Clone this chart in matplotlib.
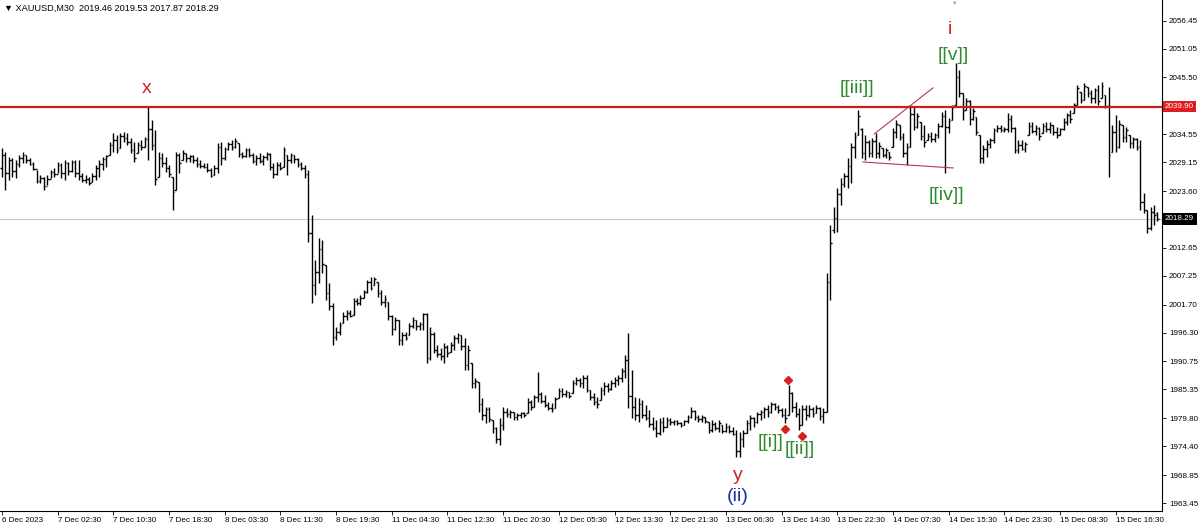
import matplotlib
matplotlib.use("Agg")
import matplotlib.pyplot as plt
import matplotlib.transforms as mtransforms
import numpy as np

plt.rcParams['font.family'] = ['Liberation Sans', 'DejaVu Sans']

# XAUUSD M30 bars (6 Dec 18:30 .. 15 Dec 23:30)
opens = [
    2028.0, 2030.5, 2027.0, 2029.5, 2027.5, 2028.8, 2030.0, 2030.6, 2029.6, 2028.9,
    2027.9, 2025.6, 2026.2, 2024.5, 2026.0, 2027.2, 2026.8, 2028.7, 2027.0, 2029.0,
    2027.5, 2029.2, 2027.0, 2026.6, 2025.8, 2026.0, 2025.4, 2026.6, 2028.0, 2028.8,
    2029.8, 2030.6, 2032.5, 2033.5, 2031.9, 2034.2, 2033.8, 2033.0, 2031.5, 2030.9,
    2032.5, 2032.1, 2033.6, 2035.5, 2032.5, 2026.4, 2030.0, 2029.0, 2028.0, 2026.3,
    2023.8, 2030.5, 2029.6, 2030.8, 2030.0, 2030.3, 2029.6, 2028.8, 2028.5, 2028.2,
    2027.6, 2026.7, 2028.0, 2032.0, 2030.0, 2031.8, 2032.6, 2032.0, 2032.9, 2030.8,
    2030.4, 2031.5, 2030.6, 2029.4, 2030.0, 2029.3, 2030.2, 2030.8, 2028.2, 2026.8,
    2028.6, 2028.2, 2030.5, 2029.5, 2030.6, 2029.8, 2028.8, 2028.0, 2026.8, 2015.5,
    2005.5, 2008.0, 2012.5, 2009.3, 2004.0, 2001.5, 1995.5, 1996.5, 1998.2, 1999.5,
    2000.0, 1999.7, 2002.4, 2002.0, 2003.0, 2004.2, 2006.0, 2005.5, 2006.1, 2004.0,
    2002.2, 2002.2, 1999.5, 1997.0, 1998.7, 1994.8, 1995.9, 1995.8, 1997.6, 1998.7,
    1997.5, 1998.0, 1999.8, 1991.5, 1996.0, 1993.0, 1992.2, 1991.8, 1993.6, 1992.6,
    1994.0, 1995.2, 1995.8, 1993.8, 1990.0, 1990.4, 1986.5, 1986.8, 1982.5, 1980.5,
    1981.5, 1979.5, 1978.0, 1975.8, 1978.5, 1981.0, 1980.6, 1981.0, 1980.0, 1980.4,
    1980.8, 1980.8, 1983.0, 1982.0, 1983.8, 1984.5, 1983.2, 1982.4, 1981.8, 1981.8,
    1983.7, 1985.0, 1984.5, 1984.8, 1984.7, 1986.5, 1987.2, 1986.5, 1987.6, 1985.2,
    1983.8, 1983.0, 1983.3, 1985.2, 1986.0, 1985.5, 1986.6, 1987.2, 1987.6, 1989.0,
    1991.0, 1984.0, 1982.0, 1980.4, 1982.5, 1980.5, 1979.8, 1978.6, 1978.0, 1977.0,
    1979.0, 1978.2, 1979.5, 1979.0, 1979.2, 1978.8, 1978.5, 1979.2, 1980.0, 1981.2,
    1980.0, 1979.6, 1980.0, 1979.1, 1977.5, 1978.6, 1978.0, 1978.5, 1977.4, 1978.2,
    1977.3, 1976.8, 1973.5, 1975.8, 1977.0, 1978.8, 1979.8, 1979.0, 1980.6, 1981.0,
    1981.5, 1981.0, 1982.5, 1982.0, 1981.3, 1980.5, 1980.4, 1984.6, 1982.0, 1980.6,
    1978.5, 1981.5, 1980.5, 1981.6, 1980.8, 1981.8, 1980.2, 1981.0, 2006.0, 2016.0,
    2018.5, 2023.0, 2025.0, 2026.5, 2028.5, 2032.0, 2034.4, 2035.5, 2031.0, 2033.0,
    2031.0, 2033.2, 2031.0, 2031.9, 2030.6, 2031.1, 2032.1, 2035.0, 2036.3, 2034.0,
    2031.0, 2032.1, 2038.5, 2036.0, 2036.9, 2034.2, 2033.4, 2034.2, 2033.6, 2034.5,
    2036.2, 2038.0, 2036.0, 2037.3, 2040.2, 2045.5, 2042.5, 2039.2, 2041.0, 2037.5,
    2037.9, 2034.4, 2030.0, 2031.8, 2032.6, 2033.4, 2035.4, 2035.8, 2035.4, 2035.6,
    2037.5, 2035.8, 2031.5, 2032.4, 2031.8, 2034.4, 2036.2, 2035.2, 2035.8, 2034.8,
    2036.2, 2035.5, 2036.3, 2035.0, 2034.4, 2035.5, 2037.0, 2038.2, 2038.7, 2040.2,
    2042.7, 2041.2, 2043.7, 2042.5, 2041.5, 2043.0, 2041.5, 2042.1, 2040.0, 2031.1,
    2035.0, 2032.0, 2036.3, 2034.0, 2034.4, 2032.8, 2033.6, 2032.0, 2021.5, 2019.9,
    2016.5, 2019.5, 2019.46,
]
highs = [
    2031.9, 2031.1, 2030.2, 2030.0, 2029.6, 2030.6, 2031.1, 2030.6, 2030.0, 2029.2,
    2027.7, 2026.7, 2026.3, 2026.7, 2027.7, 2028.0, 2029.2, 2029.0, 2029.6, 2029.2,
    2029.6, 2029.6, 2029.6, 2027.1, 2026.7, 2026.3, 2027.1, 2028.6, 2029.6, 2030.2,
    2030.6, 2033.1, 2034.8, 2034.4, 2034.8, 2035.0, 2034.8, 2033.8, 2033.1, 2033.1,
    2033.4, 2034.0, 2039.9, 2037.3, 2035.4, 2031.1, 2030.9, 2030.2, 2028.6, 2026.3,
    2031.1, 2030.9, 2031.5, 2030.9, 2030.6, 2030.6, 2030.2, 2029.6, 2029.0, 2029.0,
    2028.0, 2028.6, 2032.9, 2033.1, 2032.1, 2033.1, 2033.4, 2033.8, 2032.9, 2031.1,
    2031.9, 2031.9, 2030.9, 2030.6, 2030.9, 2030.6, 2031.1, 2030.9, 2029.0, 2029.2,
    2029.2, 2032.1, 2030.6, 2030.9, 2030.6, 2030.0, 2029.2, 2028.6, 2027.7, 2019.0,
    2010.3, 2014.5, 2014.2, 2009.3, 2005.9, 2002.0, 1997.4, 1998.4, 2000.3, 2000.7,
    2000.7, 2003.0, 2003.0, 2003.6, 2004.5, 2006.5, 2007.0, 2007.0, 2006.1, 2004.5,
    2003.6, 2002.2, 1999.7, 1999.3, 1998.7, 1996.4, 1996.4, 1998.2, 1999.3, 1998.7,
    1998.4, 2000.1, 2000.1, 1997.4, 1996.4, 1993.9, 1993.3, 1994.3, 1993.9, 1994.5,
    1995.8, 1996.2, 1995.8, 1995.3, 1993.9, 1990.4, 1987.6, 1986.8, 1983.7, 1982.0,
    1982.0, 1979.5, 1978.1, 1979.8, 1982.0, 1981.8, 1981.4, 1981.0, 1980.8, 1981.0,
    1981.0, 1983.7, 1983.3, 1984.3, 1988.7, 1984.8, 1984.3, 1982.9, 1982.7, 1983.9,
    1985.6, 1985.6, 1985.2, 1984.8, 1987.2, 1987.7, 1987.6, 1988.1, 1988.1, 1985.2,
    1984.6, 1983.9, 1985.8, 1986.8, 1986.6, 1987.2, 1987.7, 1988.1, 1989.5, 1992.0,
    1996.2, 1989.1, 1983.9, 1983.7, 1983.3, 1982.3, 1981.4, 1980.0, 1979.5, 1979.8,
    1980.0, 1980.0, 1979.8, 1979.5, 1979.5, 1979.1, 1979.5, 1980.4, 1982.0, 1981.4,
    1980.4, 1980.4, 1980.0, 1979.1, 1979.5, 1979.1, 1979.5, 1978.5, 1978.9, 1978.5,
    1978.1, 1977.5, 1977.1, 1977.5, 1979.5, 1980.4, 1980.0, 1981.0, 1981.4, 1982.0,
    1982.3, 1982.9, 1982.7, 1982.3, 1981.8, 1981.8, 1986.2, 1984.8, 1982.9, 1981.8,
    1982.3, 1982.3, 1982.3, 1982.0, 1982.3, 1982.0, 1981.8, 2007.8, 2017.1, 2020.5,
    2024.2, 2026.1, 2027.1, 2030.0, 2032.9, 2035.0, 2039.2, 2035.8, 2034.4, 2033.4,
    2033.8, 2034.8, 2033.1, 2031.9, 2031.9, 2031.1, 2035.8, 2037.3, 2036.3, 2034.8,
    2032.9, 2040.2, 2039.8, 2038.7, 2036.9, 2036.3, 2034.8, 2035.0, 2034.8, 2036.7,
    2038.8, 2039.2, 2037.7, 2040.2, 2048.3, 2046.9, 2042.5, 2041.5, 2041.2, 2039.6,
    2037.9, 2034.4, 2032.5, 2033.4, 2033.8, 2035.8, 2036.3, 2036.3, 2036.0, 2038.7,
    2038.3, 2036.0, 2033.4, 2033.4, 2033.1, 2036.9, 2036.9, 2036.3, 2036.0, 2036.7,
    2036.9, 2036.9, 2036.3, 2036.0, 2035.8, 2037.7, 2038.7, 2039.2, 2040.6, 2044.0,
    2042.7, 2044.4, 2043.7, 2043.1, 2043.5, 2044.0, 2044.6, 2042.1, 2043.7, 2036.3,
    2038.3, 2037.3, 2036.3, 2036.0, 2034.4, 2034.0, 2033.8, 2033.4, 2023.2, 2019.9,
    2020.5, 2020.9, 2019.53,
]
lows = [
    2026.3, 2023.8, 2025.7, 2026.3, 2026.1, 2028.2, 2029.0, 2029.0, 2028.6, 2027.7,
    2025.2, 2025.2, 2023.8, 2024.8, 2026.1, 2026.3, 2027.1, 2026.1, 2025.7, 2026.7,
    2027.3, 2026.3, 2025.7, 2025.3, 2025.2, 2024.8, 2025.3, 2025.7, 2026.3, 2027.7,
    2028.2, 2030.6, 2031.1, 2030.9, 2031.9, 2033.1, 2032.5, 2030.9, 2029.2, 2030.9,
    2031.5, 2032.1, 2029.6, 2031.5, 2024.8, 2026.3, 2028.2, 2027.3, 2026.3, 2019.9,
    2023.8, 2027.1, 2029.6, 2029.2, 2029.2, 2029.0, 2028.2, 2028.0, 2028.0, 2027.3,
    2026.3, 2026.7, 2027.1, 2028.6, 2029.6, 2031.5, 2031.5, 2031.9, 2030.2, 2030.0,
    2030.2, 2030.2, 2029.0, 2028.6, 2029.0, 2028.6, 2029.6, 2027.7, 2026.1, 2026.7,
    2027.7, 2028.2, 2026.7, 2029.0, 2029.0, 2028.2, 2027.7, 2026.1, 2013.8, 2002.0,
    2003.6, 2005.9, 2007.8, 2002.6, 2000.7, 1993.9, 1994.9, 1995.8, 1998.2, 1998.7,
    1999.3, 1999.7, 2001.6, 2001.6, 2003.0, 2003.9, 2004.5, 2005.5, 2003.2, 2001.6,
    2001.2, 1998.7, 1995.8, 1996.8, 1993.9, 1993.9, 1994.9, 1995.8, 1997.2, 1996.8,
    1996.8, 1996.8, 1990.4, 1991.0, 1992.4, 1991.6, 1991.0, 1990.4, 1991.6, 1992.6,
    1993.0, 1994.3, 1993.0, 1989.1, 1989.1, 1985.6, 1985.6, 1981.0, 1979.5, 1978.9,
    1979.1, 1976.9, 1975.0, 1974.6, 1977.5, 1980.0, 1979.8, 1979.5, 1979.5, 1979.8,
    1980.0, 1980.8, 1981.4, 1982.0, 1982.9, 1982.7, 1982.0, 1981.4, 1981.0, 1981.8,
    1983.7, 1983.9, 1983.9, 1983.7, 1984.7, 1986.2, 1985.8, 1985.6, 1984.8, 1983.3,
    1982.3, 1981.8, 1983.3, 1984.3, 1984.8, 1985.2, 1985.8, 1986.2, 1986.8, 1987.6,
    1981.8, 1979.8, 1979.5, 1979.1, 1979.8, 1979.5, 1978.1, 1977.5, 1976.2, 1976.6,
    1977.1, 1978.1, 1978.5, 1978.5, 1978.5, 1978.1, 1978.5, 1978.9, 1979.8, 1979.5,
    1979.1, 1979.1, 1978.9, 1976.9, 1977.1, 1977.5, 1977.1, 1976.9, 1977.1, 1976.9,
    1976.6, 1972.3, 1972.3, 1974.2, 1976.9, 1977.5, 1978.1, 1978.9, 1979.5, 1979.8,
    1980.0, 1980.8, 1981.4, 1980.8, 1980.0, 1978.9, 1980.4, 1981.0, 1980.0, 1977.5,
    1978.5, 1979.5, 1980.0, 1980.0, 1980.8, 1979.5, 1978.9, 1981.0, 2002.6, 2015.5,
    2015.7, 2020.9, 2024.4, 2024.2, 2025.2, 2030.0, 2034.4, 2030.0, 2029.6, 2030.2,
    2030.2, 2030.0, 2030.0, 2030.2, 2030.0, 2029.6, 2032.1, 2033.8, 2033.4, 2030.2,
    2028.6, 2032.1, 2035.4, 2035.8, 2033.4, 2032.1, 2033.4, 2033.1, 2033.1, 2033.8,
    2036.0, 2027.1, 2034.8, 2037.3, 2040.2, 2041.7, 2037.3, 2039.2, 2036.3, 2037.3,
    2034.4, 2029.0, 2029.0, 2030.2, 2031.9, 2032.9, 2035.0, 2035.0, 2035.0, 2035.0,
    2035.0, 2030.9, 2030.9, 2031.5, 2031.1, 2034.4, 2034.8, 2034.4, 2033.4, 2034.8,
    2035.0, 2034.8, 2034.4, 2033.8, 2034.4, 2035.4, 2036.3, 2036.7, 2038.7, 2040.2,
    2040.6, 2041.2, 2041.7, 2040.6, 2040.6, 2040.2, 2041.5, 2039.6, 2026.3, 2031.1,
    2031.1, 2031.9, 2033.1, 2033.1, 2031.9, 2031.9, 2031.5, 2019.9, 2019.4, 2015.5,
    2016.1, 2017.1, 2017.87,
]
closes = [
    2030.5, 2027.0, 2029.5, 2027.5, 2028.8, 2030.0, 2030.6, 2029.6, 2028.9, 2027.9,
    2025.6, 2026.2, 2024.5, 2026.0, 2027.2, 2026.8, 2028.7, 2027.0, 2029.0, 2027.5,
    2029.2, 2027.0, 2026.5, 2025.8, 2026.0, 2025.2, 2026.6, 2028.0, 2028.8, 2029.8,
    2030.3, 2032.5, 2033.5, 2031.5, 2034.2, 2033.8, 2033.0, 2031.5, 2030.0, 2032.5,
    2032.0, 2033.6, 2035.5, 2032.5, 2026.0, 2030.0, 2029.0, 2028.0, 2026.8, 2023.5,
    2030.5, 2029.0, 2031.0, 2030.0, 2030.3, 2029.6, 2028.8, 2028.5, 2028.2, 2027.6,
    2026.6, 2028.0, 2032.0, 2030.0, 2031.8, 2032.6, 2032.0, 2033.2, 2030.8, 2030.4,
    2031.5, 2030.6, 2029.4, 2030.0, 2029.3, 2030.2, 2030.8, 2028.2, 2026.8, 2028.6,
    2028.0, 2031.5, 2029.5, 2030.6, 2029.8, 2028.8, 2028.0, 2026.8, 2015.5, 2005.5,
    2008.0, 2012.5, 2009.5, 2004.0, 2001.5, 1995.5, 1996.5, 1997.8, 1999.5, 2000.0,
    1999.6, 2002.4, 2002.0, 2003.0, 2004.2, 2006.0, 2005.0, 2006.6, 2004.0, 2002.2,
    2002.8, 1999.5, 1997.0, 1998.8, 1994.8, 1995.9, 1995.2, 1997.6, 1998.8, 1997.5,
    1998.0, 1999.8, 1991.5, 1996.0, 1993.0, 1992.2, 1991.8, 1993.6, 1992.4, 1994.0,
    1995.2, 1995.8, 1993.8, 1990.0, 1993.0, 1986.5, 1987.0, 1982.5, 1980.5, 1981.5,
    1979.6, 1978.0, 1975.8, 1978.5, 1981.0, 1980.6, 1981.0, 1980.0, 1980.4, 1980.8,
    1980.5, 1983.0, 1982.0, 1983.8, 1984.5, 1983.2, 1982.4, 1981.8, 1981.5, 1983.5,
    1985.0, 1984.5, 1984.8, 1984.0, 1986.5, 1987.2, 1986.5, 1987.6, 1985.2, 1983.8,
    1983.0, 1982.5, 1985.2, 1986.0, 1985.5, 1986.6, 1987.2, 1987.6, 1989.0, 1991.0,
    1984.0, 1982.0, 1980.4, 1982.5, 1980.5, 1979.8, 1978.6, 1978.0, 1977.0, 1979.0,
    1978.2, 1979.5, 1979.0, 1979.2, 1978.8, 1978.5, 1979.2, 1980.0, 1981.2, 1980.0,
    1979.6, 1980.0, 1979.2, 1977.5, 1978.6, 1978.0, 1978.8, 1977.4, 1978.2, 1977.3,
    1976.8, 1973.5, 1975.8, 1977.0, 1978.8, 1979.8, 1979.0, 1980.6, 1981.0, 1981.5,
    1981.0, 1982.5, 1982.0, 1981.3, 1980.5, 1979.8, 1984.6, 1982.0, 1980.6, 1978.5,
    1981.5, 1980.5, 1981.6, 1980.6, 1981.8, 1980.2, 1981.0, 2006.0, 2013.5, 2018.5,
    2023.0, 2025.0, 2026.5, 2028.5, 2032.0, 2034.0, 2038.0, 2031.0, 2033.0, 2031.0,
    2033.2, 2031.0, 2032.2, 2030.6, 2031.5, 2030.2, 2035.0, 2036.5, 2034.0, 2031.0,
    2032.0, 2038.5, 2036.0, 2038.0, 2034.2, 2033.0, 2034.2, 2033.6, 2034.5, 2036.2,
    2038.0, 2036.0, 2037.2, 2039.8, 2045.5, 2042.5, 2039.0, 2041.0, 2037.5, 2039.0,
    2035.0, 2030.0, 2031.8, 2032.6, 2033.4, 2035.4, 2035.8, 2035.4, 2035.6, 2037.5,
    2035.8, 2031.5, 2032.4, 2031.8, 2032.6, 2036.2, 2035.2, 2035.8, 2034.2, 2036.2,
    2035.5, 2036.4, 2035.0, 2034.4, 2035.5, 2037.0, 2038.2, 2037.4, 2040.2, 2043.5,
    2041.2, 2043.8, 2042.5, 2041.5, 2043.0, 2041.0, 2043.8, 2040.0, 2030.5, 2035.0,
    2032.0, 2036.5, 2034.0, 2035.4, 2032.8, 2033.6, 2032.0, 2021.5, 2020.0, 2016.5,
    2019.5, 2019.0, 2018.29,
]

time_labels = ["6 Dec 2023", "7 Dec 02:30", "7 Dec 10:30", "7 Dec 18:30", "8 Dec 03:30",
               "8 Dec 11:30", "8 Dec 19:30", "11 Dec 04:30", "11 Dec 12:30", "11 Dec 20:30",
               "12 Dec 05:30", "12 Dec 13:30", "12 Dec 21:30", "13 Dec 06:30", "13 Dec 14:30",
               "13 Dec 22:30", "14 Dec 07:30", "14 Dec 15:30", "14 Dec 23:30", "15 Dec 08:30",
               "15 Dec 16:30"]
price_ticks = [2056.45, 2051.05, 2045.50, 2034.55, 2029.15, 2023.60, 2012.65, 2007.25,
               2001.70, 1996.30, 1990.75, 1985.35, 1979.80, 1974.40, 1968.85, 1963.45]

level_price = 2039.90
bid_price = 2018.29

# wave labels (bar index, price)
wave_text = ["x", "y", "(ii)", "[[i]]", "[[ii]]", "[[iii]]", "[[iv]]", "[[v]]", "i"]
wave_x = [41.7, 211.5, 211.5, 220.7, 229.3, 245.7, 271.3, 273.3, 272.4]
wave_y = [2043.3, 1968.7, 1964.8, 1975.2, 1973.7, 2043.3, 2022.8, 2049.8, 2054.7]
wave_col = ["#d22222", "#d22222", "#1e2ea4", "#2e8c2e", "#2e8c2e", "#2e8c2e", "#2e8c2e",
            "#2e8c2e", "#d22222"]

diamond_x = [225.9, 225.0, 229.9]
diamond_y = [1987.2, 1977.7, 1976.4]

tri_upper_x = [250.6, 267.5]
tri_upper_y = [2034.6, 2043.5]
tri_lower_x = [247.4, 273.3]
tri_lower_y = [2029.2, 2028.05]

n = min(len(opens), len(highs), len(lows), len(closes))
idx = np.arange(n)

fig = plt.figure(figsize=(12, 5.29), dpi=100)
ax = fig.add_axes([0, 1 - 511 / 529, 1162 / 1200, 511 / 529])

ax.axhline(bid_price, color="#c4c4c4", lw=0.8, zorder=1)
ax.axhline(level_price, color="#cc1c1c", lw=1.6, zorder=3)

ax.vlines(idx, lows[:n], highs[:n], color="black", lw=1.0, zorder=2)
ax.hlines(opens[:n], idx - 0.45, idx, color="black", lw=1.0, zorder=2)
ax.hlines(closes[:n], idx, idx + 0.45, color="black", lw=1.0, zorder=2)

ax.plot(tri_upper_x, tri_upper_y, color="#b03a4a", lw=0.8, zorder=2)
ax.plot(tri_lower_x, tri_lower_y, color="#b03a4a", lw=0.8, zorder=2)
ax.plot(diamond_x, diamond_y, ls="none", marker="D", ms=4, color="#d81e1e", zorder=4)

for t, x, y, c in zip(wave_text, wave_x, wave_y, wave_col):
    ax.text(x, y, t, color=c, fontsize=14, ha="center", va="center", zorder=5)

ax.set_xlim(-0.575, 333.3)
ax.set_ylim(1961.91, 2060.44)

ax.set_xticks(np.arange(len(time_labels)) * 16)
ax.set_xticklabels(time_labels, fontsize=5.8)
for lab in ax.get_xticklabels():
    lab.set_ha("left")
ax.tick_params(axis="x", direction="out", length=3, width=0.6, pad=1.5)

ax.yaxis.tick_right()
ax.set_yticks(price_ticks)
ax.set_yticklabels([f"{p:.2f}" for p in price_ticks], fontsize=5.8)
ax.tick_params(axis="y", direction="out", length=3, width=0.6, pad=2)

for side in ["left", "top"]:
    ax.spines[side].set_visible(False)
for side in ["right", "bottom"]:
    ax.spines[side].set_linewidth(0.8)

trans = mtransforms.blended_transform_factory(ax.transAxes, ax.transData)
ax.text(1.0 + 3 / 1162, level_price, f"{level_price:.2f}", transform=trans, fontsize=5.8,
        color="white", va="center", ha="left", clip_on=False,
        bbox=dict(boxstyle="square,pad=0.3", fc="#e01c1c", ec="none"))
ax.text(1.0 + 3 / 1162, bid_price, f"{bid_price:.2f}", transform=trans, fontsize=5.8,
        color="white", va="center", ha="left", clip_on=False,
        bbox=dict(boxstyle="square,pad=0.3", fc="black", ec="none"))

fig.text(4 / 1200, 1 - 8 / 529, "\u25bc XAUUSD,M30  2019.46 2019.53 2017.87 2018.29",
         fontsize=6.6, va="center", ha="left")
fig.text(955 / 1200, 1 - 3 / 529, "\u25bc", fontsize=4, color="#9a9a9a",
         va="center", ha="center")

fig.savefig("out.png", dpi=100, facecolor="white")
